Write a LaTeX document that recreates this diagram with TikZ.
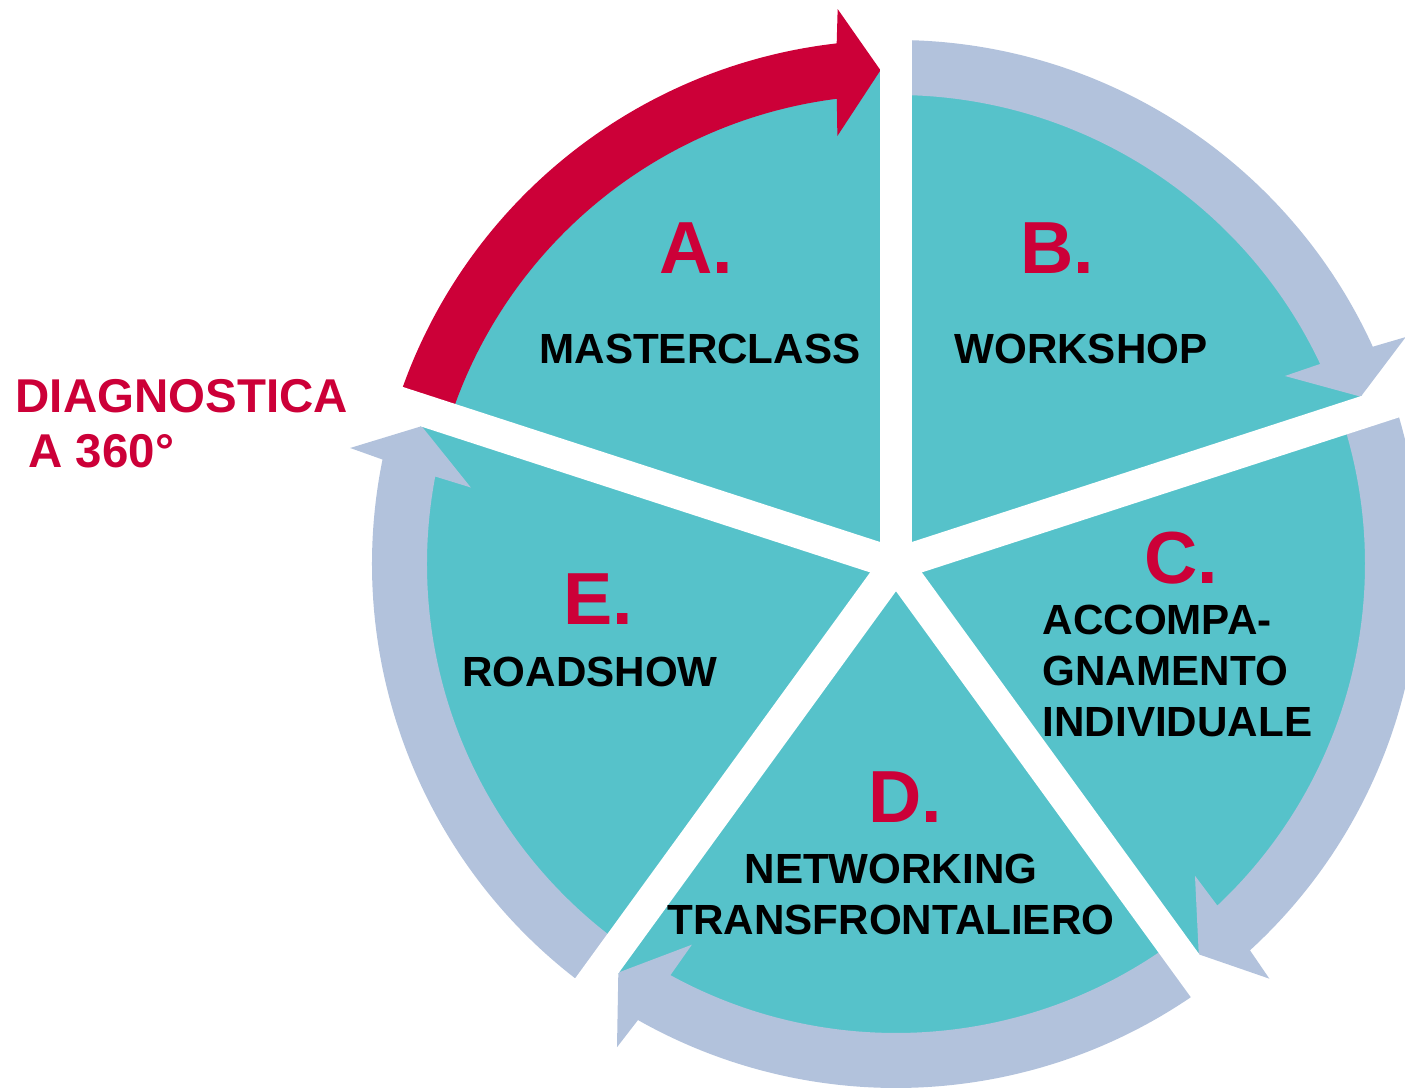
\documentclass[tikz,border=0pt]{standalone}
\usepackage{fontspec}
\setmainfont{Liberation Sans}
\usepackage{tikz}
\definecolor{wedge}{HTML}{56C2CA}
\definecolor{ring}{HTML}{B2C2DC}
\definecolor{redmark}{HTML}{CC0038}

\begin{document}
\begin{tikzpicture}[
	letter/.style={font=\fontsize{21}{25}\selectfont\bfseries, text=redmark, inner sep=0pt, anchor=base},
	stagetext/.style={font=\fontsize{12}{14.5}\selectfont\bfseries, text=black, inner sep=0pt, anchor=base}
]
	\useasboundingbox (-8.96,-5.24) rectangle (5.09,5.64);
	\fill[wedge] (0,0) circle (4.95);
	\foreach \s/\col in {90/ring,18/ring,-54/ring,-126/ring,162/redmark}{
		\pgfmathsetmacro{\ango}{\s-65.5}
		\pgfmathsetmacro{\angi}{\s-64.75}
		\pgfmathsetmacro{\angt}{\s-70.2}
		\fill[\col] (\s:5.24) arc[start angle=\s, end angle=\ango, radius=5.24] -- (\s-66:5.58) -- (\angt:4.94) -- (\s-64.2:4.32) -- (\angi:4.69) arc[start angle=\angi, end angle=\s, radius=4.69] -- cycle;
	}
	\foreach \s in {90,18,-54,-126,162}
		\draw[white, line width=0.32cm] (0,0) -- (\s:5.45);

	\node[letter] (la) at (-2.00,2.90) {A.};
	\node[stagetext] (mc) at (-1.96,2.00) {MASTERCLASS};
	\node[letter] (lb) at (1.61,2.90) {B.};
	\node[stagetext] (ws) at (1.85,2.00) {WORKSHOP};
	\node[letter] (lc) at (2.85,-0.19) {C.};
	\node[stagetext, align=left, anchor=base west] (ai) at (1.46,-1.72) {ACCOMPA-\\GNAMENTO\\INDIVIDUALE};
	\node[letter] (ld) at (0.09,-2.58) {D.};
	\node[stagetext, align=center] (nt) at (-0.05,-3.70) {NETWORKING\\TRANSFRONTALIERO};
	\node[letter] (le) at (-2.98,-0.60) {E.};
	\node[stagetext] (rs) at (-3.06,-1.22) {ROADSHOW};
	\node[stagetext, font=\fontsize{13.5}{15.9}\selectfont\bfseries, text=redmark, align=left, anchor=base west] (dg) at (-8.81,0.96) {DIAGNOSTICA\\\hspace*{0.27em}A 360°};
\end{tikzpicture}
\end{document}
